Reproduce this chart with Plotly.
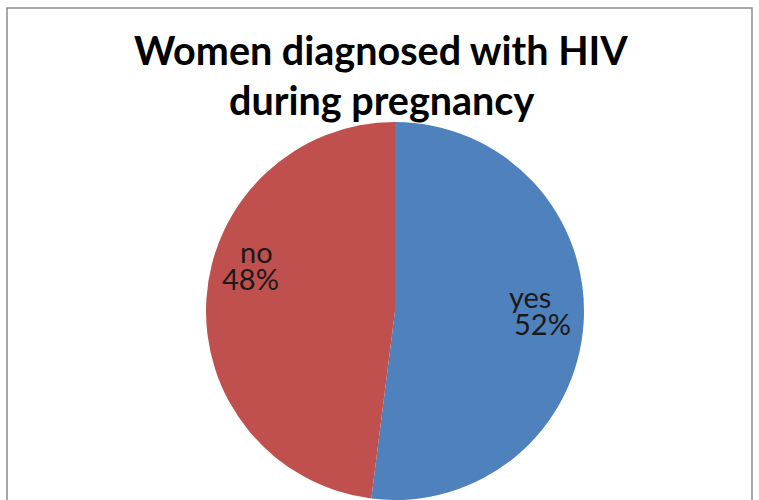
import plotly.graph_objects as go

# Data
categories = ["yes", "no"]
values = [52, 48]
colors = ["#4F81BD", "#C0504D"]
title_lines = ["Women diagnosed with HIV", "during pregnancy"]

W, H = 759, 500
total = sum(values)
pcts = [f"{round(v / total * 100)}%" for v in values]

# pie geometry (pixels)
cx, cy, R = 395, 311, 189

fig = go.Figure()
fig.add_trace(go.Pie(
    labels=categories,
    values=values,
    sort=False,
    direction="clockwise",
    rotation=0,
    marker=dict(colors=colors, line=dict(width=0)),
    textinfo="none",
    hoverinfo="label+percent",
    showlegend=False,
    domain=dict(x=[(cx - R) / W, (cx + R) / W],
                y=[max(0, (H - cy - R) / H), (H - cy + R) / H]),
))

# label positions (pixels, top-left origin) per category
label_pos = {"yes": (530, 296), "no": (256, 251)}
font_lbl = dict(family="Lato, Carlito, sans-serif", size=29, color="#1a1a1a")
for cat, pct in zip(categories, pcts):
    x, y = label_pos[cat]
    fig.add_annotation(x=x / W, y=1 - y / H, xref="paper", yref="paper",
                       text=cat, showarrow=False, font=font_lbl,
                       xanchor="center", yanchor="middle")
    fig.add_annotation(x=(x + 12 if cat == "yes" else x - 6) / W, y=1 - (y + 27) / H,
                       xref="paper", yref="paper",
                       text=pct, showarrow=False, font=font_lbl,
                       xanchor="center", yanchor="middle")

# title
for i, line in enumerate(title_lines):
    fig.add_annotation(x=381 / W, y=1 - (50 + 50 * i) / H, xref="paper", yref="paper",
                       text=f"<b>{line}</b>", showarrow=False,
                       font=dict(family="Lato, Carlito, sans-serif", size=39.5, color="#000000"),
                       xanchor="center", yanchor="middle")

# chart frame
fig.add_shape(type="rect", xref="paper", yref="paper",
              x0=7 / W, x1=752 / W, y0=-0.05, y1=1 - 8 / H,
              line=dict(color="#8c8c8c", width=1.5), fillcolor="rgba(0,0,0,0)")

fig.update_layout(width=W, height=H, margin=dict(l=0, r=0, t=0, b=0),
                  paper_bgcolor="white", plot_bgcolor="white")

fig.write_html("out.html", config={"displayModeBar": False},
               post_script="document.body.style.margin='0px';document.body.style.overflow='hidden';")
